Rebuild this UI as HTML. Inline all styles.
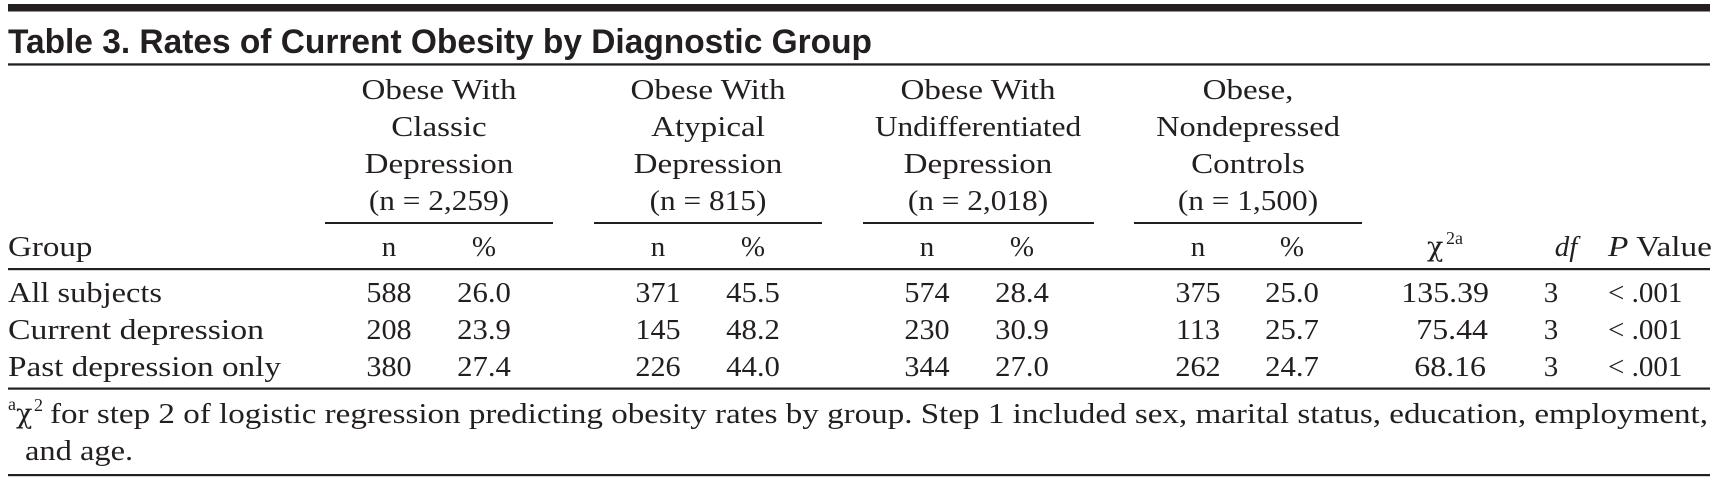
<!DOCTYPE html>
<html>
<head>
<meta charset="utf-8">
<style>
  html, body { margin:0; padding:0; background:#ffffff; }
  body { width:1720px; height:480px; overflow:hidden; }
  svg { display:block; }
  .s { font-family:"Liberation Serif", "DejaVu Serif", serif; font-size:29px; fill:#231f20; }
  .chi { font-family:"DejaVu Serif", "Liberation Serif", serif; font-size:27px; fill:#231f20; }
  .i { font-style:italic; }
  .t { font-family:"Liberation Sans", "DejaVu Sans", sans-serif; font-size:34px; font-weight:bold; fill:#231f20; }
  .sup { font-family:"Liberation Serif", "DejaVu Serif", serif; font-size:18px; fill:#231f20; }
</style>
</head>
<body>
<svg width="1720" height="480" viewBox="0 0 1720 480" xmlns="http://www.w3.org/2000/svg">
  <!-- top thick bar -->
  <rect x="8" y="4" width="1702" height="7.5" fill="#231f20"/>
  <!-- title -->
  <text class="t" x="8" y="53" textLength="864" lengthAdjust="spacingAndGlyphs">Table 3. Rates of Current Obesity by Diagnostic Group</text>
  <rect x="8" y="63.3" width="1702" height="2.3" fill="#231f20"/>

  <!-- column group headers -->
  <g class="s" text-anchor="middle">
    <text transform="translate(439 99) scale(1.14 1)">Obese With</text>
    <text transform="translate(439 136) scale(1.14 1)">Classic</text>
    <text transform="translate(439 173) scale(1.14 1)">Depression</text>
    <text transform="translate(439 210) scale(1.08 1)">(n = 2,259)</text>

    <text transform="translate(708 99) scale(1.14 1)">Obese With</text>
    <text transform="translate(708 136) scale(1.14 1)">Atypical</text>
    <text transform="translate(708 173) scale(1.14 1)">Depression</text>
    <text transform="translate(708 210) scale(1.08 1)">(n = 815)</text>

    <text transform="translate(978 99) scale(1.14 1)">Obese With</text>
    <text transform="translate(978 136) scale(1.08 1)">Undifferentiated</text>
    <text transform="translate(978 173) scale(1.14 1)">Depression</text>
    <text transform="translate(978 210) scale(1.08 1)">(n = 2,018)</text>

    <text transform="translate(1248 99) scale(1.14 1)">Obese,</text>
    <text transform="translate(1248 136) scale(1.12 1)">Nondepressed</text>
    <text transform="translate(1248 173) scale(1.14 1)">Controls</text>
    <text transform="translate(1248 210) scale(1.08 1)">(n = 1,500)</text>
  </g>

  <!-- span rules -->
  <rect x="325" y="222" width="228" height="2" fill="#231f20"/>
  <rect x="594" y="222" width="228" height="2" fill="#231f20"/>
  <rect x="863" y="222" width="231" height="2" fill="#231f20"/>
  <rect x="1134" y="222" width="228" height="2" fill="#231f20"/>

  <!-- column header row -->
  <text class="s" transform="translate(8 256) scale(1.14 1)">Group</text>
  <g class="s" text-anchor="middle">
    <text x="389" y="256">n</text><text x="484" y="256">%</text>
    <text x="658" y="256">n</text><text x="753" y="256">%</text>
    <text x="927" y="256">n</text><text x="1022" y="256">%</text>
    <text x="1198" y="256">n</text><text x="1292" y="256">%</text>
  </g>
  <text class="chi" x="1427" y="256">χ</text>
  <text class="sup" x="1446" y="244">2a</text>
  <text class="s i" x="1566" y="256" text-anchor="middle">df</text>
  <text class="s" x="1608" y="256" textLength="104" lengthAdjust="spacingAndGlyphs"><tspan font-style="italic">P</tspan> Value</text>

  <rect x="8" y="268" width="1702" height="2.2" fill="#231f20"/>

  <!-- rows -->
  <text class="s" x="8" y="302" textLength="154" lengthAdjust="spacingAndGlyphs">All subjects</text>
  <text class="s" x="8" y="339" textLength="256" lengthAdjust="spacingAndGlyphs">Current depression</text>
  <text class="s" x="8" y="376" textLength="273" lengthAdjust="spacingAndGlyphs">Past depression only</text>

  <g class="s" text-anchor="middle">
    <text transform="translate(389 302) scale(1.04 1)">588</text>
    <text transform="translate(484 302) scale(1.06 1)">26.0</text>
    <text transform="translate(658 302) scale(1.04 1)">371</text>
    <text transform="translate(753 302) scale(1.06 1)">45.5</text>
    <text transform="translate(927 302) scale(1.04 1)">574</text>
    <text transform="translate(1022 302) scale(1.06 1)">28.4</text>
    <text transform="translate(1198 302) scale(1.04 1)">375</text>
    <text transform="translate(1292 302) scale(1.06 1)">25.0</text>

    <text transform="translate(389 339) scale(1.04 1)">208</text>
    <text transform="translate(484 339) scale(1.06 1)">23.9</text>
    <text transform="translate(658 339) scale(1.04 1)">145</text>
    <text transform="translate(753 339) scale(1.06 1)">48.2</text>
    <text transform="translate(927 339) scale(1.04 1)">230</text>
    <text transform="translate(1022 339) scale(1.06 1)">30.9</text>
    <text transform="translate(1198 339) scale(1.04 1)">113</text>
    <text transform="translate(1292 339) scale(1.06 1)">25.7</text>

    <text transform="translate(389 376) scale(1.04 1)">380</text>
    <text transform="translate(484 376) scale(1.06 1)">27.4</text>
    <text transform="translate(658 376) scale(1.04 1)">226</text>
    <text transform="translate(753 376) scale(1.06 1)">44.0</text>
    <text transform="translate(927 376) scale(1.04 1)">344</text>
    <text transform="translate(1022 376) scale(1.06 1)">27.0</text>
    <text transform="translate(1198 376) scale(1.04 1)">262</text>
    <text transform="translate(1292 376) scale(1.06 1)">24.7</text>

    <text x="1551" y="302">3</text>
    <text x="1551" y="339">3</text>
    <text x="1551" y="376">3</text>
  </g>
  <g class="s" text-anchor="end">
    <text transform="translate(1489 302) scale(1.1 1)">135.39</text>
    <text transform="translate(1488 339) scale(1.1 1)">75.44</text>
    <text transform="translate(1486 376) scale(1.1 1)">68.16</text>
  </g>
  <g class="s">
    <text x="1608" y="302">&lt; .001</text>
    <text x="1608" y="339">&lt; .001</text>
    <text x="1608" y="376">&lt; .001</text>
  </g>

  <rect x="8" y="387.5" width="1702" height="2.2" fill="#231f20"/>

  <!-- footnote -->
  <text class="sup" x="8" y="410" font-size="17">a</text>
  <text class="chi" x="16" y="423">χ</text>
  <text class="sup" x="34" y="411" font-size="17">2</text>
  <text class="s" x="50" y="423" textLength="1658" lengthAdjust="spacingAndGlyphs">for step 2 of logistic regression predicting obesity rates by group. Step 1 included sex, marital status, education, employment,</text>
  <text class="s" transform="translate(25 460) scale(1.12 1)">and age.</text>

  <rect x="8" y="474" width="1702" height="2.2" fill="#231f20"/>
</svg>
</body>
</html>
